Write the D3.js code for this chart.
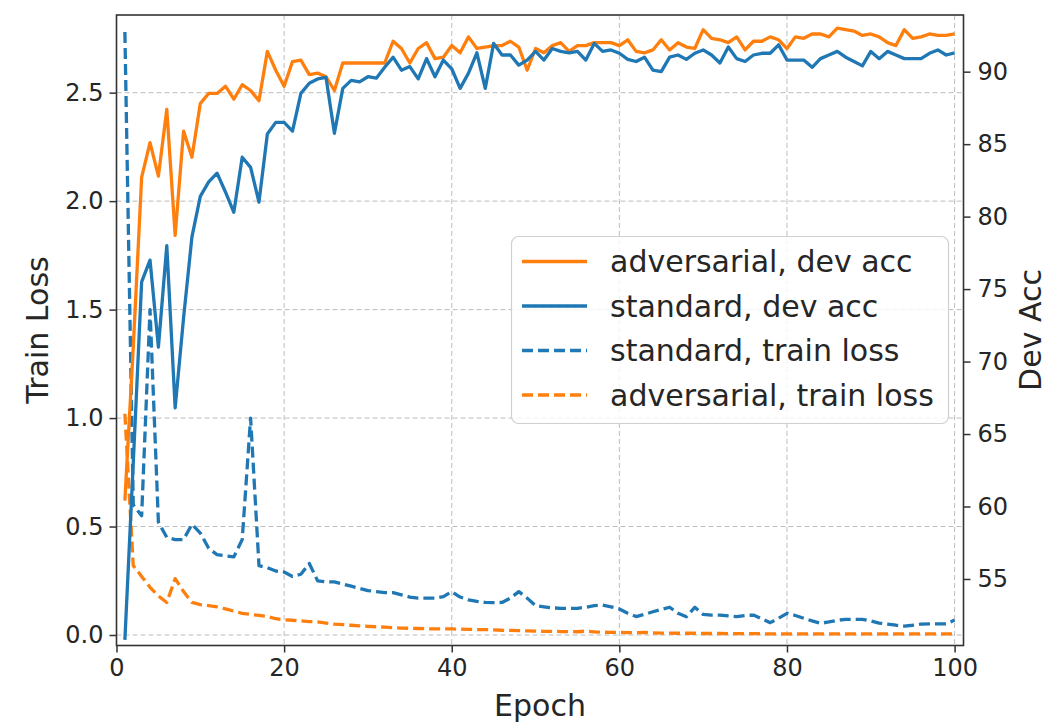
<!DOCTYPE html>
<html>
<head>
<meta charset="utf-8">
<script src="https://cdn.jsdelivr.net/npm/d3@7"></script>
<style>
  body { margin: 0; background: #fff; }
  text { font-family: "DejaVu Sans", sans-serif; fill: #262626; }
</style>
</head>
<body>
<svg id="chart" width="1048" height="726"></svg>
<script>
// epochs 1..100
var epochs = d3.range(1, 101);

var advDevAcc = [60.4, 71, 82.7, 85.1, 82.8, 87.4, 78.7, 85.9, 84.1, 87.8,
  88.5, 88.5, 89.0, 88.1, 89.1, 88.7, 88.0, 91.4, 90.1, 89.0,
  90.7, 90.8, 89.8, 89.9, 89.65, 88.7, 90.6, 90.6, 90.6, 90.6,
  90.6, 90.6, 92.1, 91.6, 90.6, 91.6, 92.0, 90.9, 91.0, 91.8,
  91.3, 92.4, 91.6, 91.7, 91.8, 91.8, 92.1, 91.7, 90.1, 91.6,
  91.3, 91.8, 92.0, 91.4, 91.8, 91.8, 92.0, 92.0, 92.0, 91.8,
  92.2, 91.4, 91.3, 91.5, 92.2, 91.5, 92.0, 91.7, 91.6, 92.9,
  92.3, 92.2, 92.0, 92.4, 91.5, 92.1, 92.1, 92.4, 92.2, 91.6,
  92.4, 92.3, 92.6, 92.6, 92.4, 93.0, 92.9, 92.8, 92.5, 92.6,
  92.4, 92.0, 91.8, 92.9, 92.3, 92.4, 92.6, 92.5, 92.5, 92.6];

var stdDevAcc = [50.8, 63, 75.5, 77.0, 71.0, 78.0, 66.8, 73, 78.6, 81.4,
  82.4, 83.0, 81.7, 80.3, 84.1, 83.4, 81.0, 85.7, 86.5, 86.5,
  85.9, 88.5, 89.2, 89.5, 89.6, 85.75, 88.85, 89.4, 89.3, 89.65,
  89.55, 90.3, 91.0, 90.1, 90.35, 89.5, 90.9, 89.65, 90.8, 90.2,
  88.85, 89.9, 91.3, 88.85, 91.95, 91.15, 91.15, 90.45, 90.8, 91.4,
  90.8, 91.6, 91.4, 91.3, 91.4, 90.8, 91.95, 91.4, 91.5, 91.27,
  90.85, 90.7, 91.0, 90.1, 90.0, 91.0, 91.15, 90.85, 91.27, 91.5,
  91.15, 90.6, 91.7, 90.9, 90.7, 91.15, 91.27, 91.27, 91.85, 90.8,
  90.8, 90.8, 90.3, 90.9, 91.15, 91.4, 91.0, 90.7, 90.4, 91.4,
  90.9, 91.4, 91.15, 90.9, 90.9, 90.9, 91.27, 91.5, 91.15, 91.3];

var stdTrainLoss = [2.78, 0.60, 0.55, 1.50, 0.52, 0.45, 0.44, 0.44, 0.51, 0.47,
  0.40, 0.37, 0.365, 0.36, 0.44, 1.0, 0.32, 0.31, 0.295, 0.29,
  0.27, 0.28, 0.33, 0.25, 0.245, 0.245, 0.235, 0.225, 0.215, 0.205,
  0.2, 0.195, 0.195, 0.185, 0.175, 0.17, 0.17, 0.17, 0.177, 0.2,
  0.175, 0.162, 0.155, 0.15, 0.149, 0.15, 0.17, 0.2, 0.17, 0.135,
  0.13, 0.125, 0.123, 0.123, 0.123, 0.128, 0.135, 0.138, 0.13, 0.12,
  0.1, 0.085, 0.095, 0.107, 0.118, 0.128, 0.1, 0.084, 0.128, 0.095,
  0.092, 0.092, 0.088, 0.085, 0.09, 0.092, 0.075, 0.057, 0.077, 0.1,
  0.09, 0.077, 0.065, 0.054, 0.06, 0.068, 0.072, 0.072, 0.072, 0.065,
  0.055, 0.05, 0.045, 0.041, 0.045, 0.05, 0.051, 0.051, 0.051, 0.069];

var advTrainLoss = [1.02, 0.32, 0.27, 0.22, 0.18, 0.15, 0.26, 0.20, 0.15, 0.14,
  0.135, 0.13, 0.12, 0.11, 0.10, 0.095, 0.09, 0.085, 0.075, 0.07,
  0.068, 0.065, 0.062, 0.06, 0.055, 0.05, 0.048, 0.045, 0.042, 0.04,
  0.038, 0.036, 0.034, 0.032, 0.031, 0.03, 0.029, 0.028, 0.028, 0.028,
  0.027, 0.026, 0.025, 0.025, 0.024, 0.022, 0.021, 0.02, 0.019, 0.018,
  0.017, 0.017, 0.016, 0.016, 0.015, 0.018, 0.014, 0.013, 0.012, 0.012,
  0.011, 0.011, 0.012, 0.01, 0.009, 0.009, 0.008, 0.008, 0.008, 0.007,
  0.007, 0.007, 0.006, 0.006, 0.006, 0.006, 0.006, 0.005, 0.005, 0.005,
  0.005, 0.005, 0.005, 0.005, 0.005, 0.005, 0.005, 0.005, 0.005, 0.005,
  0.005, 0.005, 0.005, 0.005, 0.005, 0.005, 0.005, 0.005, 0.005, 0.005];

var xTicks = [0, 20, 40, 60, 80, 100];
var lossTicks = [0.0, 0.5, 1.0, 1.5, 2.0, 2.5];
var accTicks = [55, 60, 65, 70, 75, 80, 85, 90];

var legendItems = [
  {label: "adversarial, dev acc", color: "#ff7f0e", dash: null},
  {label: "standard, dev acc", color: "#1f77b4", dash: null},
  {label: "standard, train loss", color: "#1f77b4", dash: "11,5"},
  {label: "adversarial, train loss", color: "#ff7f0e", dash: "11,5"}
];

var blue = "#1f77b4", orange = "#ff7f0e";
var plotL = 116.5, plotR = 963.5, plotT = 15, plotB = 645.5;

var svg = d3.select("#chart");

var x = d3.scaleLinear().domain([0, 101]).range([plotL, plotL + 8.381 * 101]);
var yLoss = d3.scaleLinear().domain([-0.0484, 2.858]).range([plotB, plotT]);
var yAcc = d3.scaleLinear().domain([50.41, 93.91]).range([plotB, plotT]);

// grid
var grid = svg.append("g");
grid.selectAll(".gx").data(xTicks).enter().append("line")
  .attr("x1", d => x(d)).attr("x2", d => x(d))
  .attr("y1", plotT).attr("y2", plotB)
  .attr("stroke", "#bdbdbd").attr("stroke-width", 1).attr("stroke-dasharray", "5,3");
grid.selectAll(".gy").data(lossTicks).enter().append("line")
  .attr("x1", plotL).attr("x2", plotR)
  .attr("y1", d => yLoss(d)).attr("y2", d => yLoss(d))
  .attr("stroke", "#bdbdbd").attr("stroke-width", 1).attr("stroke-dasharray", "5,3");

svg.append("defs").append("clipPath").attr("id", "clip")
  .append("rect").attr("x", plotL).attr("y", plotT)
  .attr("width", plotR - plotL).attr("height", plotB - plotT);

var plot = svg.append("g").attr("clip-path", "url(#clip)");

function drawLine(vals, yScale, color, dash) {
  var line = d3.line().x((d, i) => x(epochs[i])).y(d => yScale(d));
  plot.append("path").datum(vals)
    .attr("d", line)
    .attr("fill", "none")
    .attr("stroke", color)
    .attr("stroke-width", 3.3)
    .attr("stroke-linejoin", "round")
    .attr("stroke-dasharray", dash);
}

drawLine(stdTrainLoss, yLoss, blue, "11,5");
drawLine(advTrainLoss, yLoss, orange, "11,5");
drawLine(advDevAcc, yAcc, orange, null);
drawLine(stdDevAcc, yAcc, blue, null);

// axes
var xAxis = d3.axisBottom(x).tickValues(xTicks).tickSize(7).tickPadding(6);
var gx = svg.append("g").attr("transform", "translate(0," + plotB + ")").call(xAxis);
var gl = svg.append("g").attr("transform", "translate(" + plotL + ",0)")
  .call(d3.axisLeft(yLoss).tickValues(lossTicks).tickFormat(d3.format(".1f")).tickSize(7).tickPadding(6));
var gr = svg.append("g").attr("transform", "translate(" + plotR + ",0)")
  .call(d3.axisRight(yAcc).tickValues(accTicks).tickSize(7).tickPadding(7));

[gx, gl, gr].forEach(function(g) {
  g.select(".domain").remove();
  g.selectAll(".tick line").attr("stroke", "#333").attr("stroke-width", 1.5);
  g.selectAll(".tick text").style("font-size", "24px").style("font-family", "DejaVu Sans").attr("fill", "#262626");
});

// frame
svg.append("rect").attr("x", plotL).attr("y", plotT)
  .attr("width", plotR - plotL).attr("height", plotB - plotT)
  .attr("fill", "none").attr("stroke", "#333").attr("stroke-width", 1.6);

// axis labels
svg.append("text").attr("x", 540).attr("y", 716).attr("text-anchor", "middle")
  .style("font-size", "30px").text("Epoch");
svg.append("text").attr("transform", "translate(48,330) rotate(-90)")
  .attr("text-anchor", "middle").style("font-size", "30px").text("Train Loss");
svg.append("text").attr("transform", "translate(1041,330) rotate(-90)")
  .attr("text-anchor", "middle").style("font-size", "30px").text("Dev Acc");

// legend
var lg = svg.append("g");
lg.append("rect").attr("x", 511.5).attr("y", 236.5).attr("width", 437).attr("height", 187)
  .attr("rx", 7).attr("fill", "#fff").attr("fill-opacity", 0.8)
  .attr("stroke", "#d0d0d0").attr("stroke-width", 1.2);
var rows = lg.selectAll(".row").data(legendItems).enter().append("g")
  .attr("transform", (d, i) => "translate(0," + (261.5 + i * 44.5) + ")");
rows.append("line").attr("x1", 522).attr("x2", 587).attr("y1", 0).attr("y2", 0)
  .attr("stroke", d => d.color).attr("stroke-width", 3.3)
  .attr("stroke-dasharray", d => d.dash);
rows.append("text").attr("x", 610).attr("y", 0).attr("dy", "0.35em")
  .style("font-size", "30px").text(d => d.label);
</script>
</body>
</html>
